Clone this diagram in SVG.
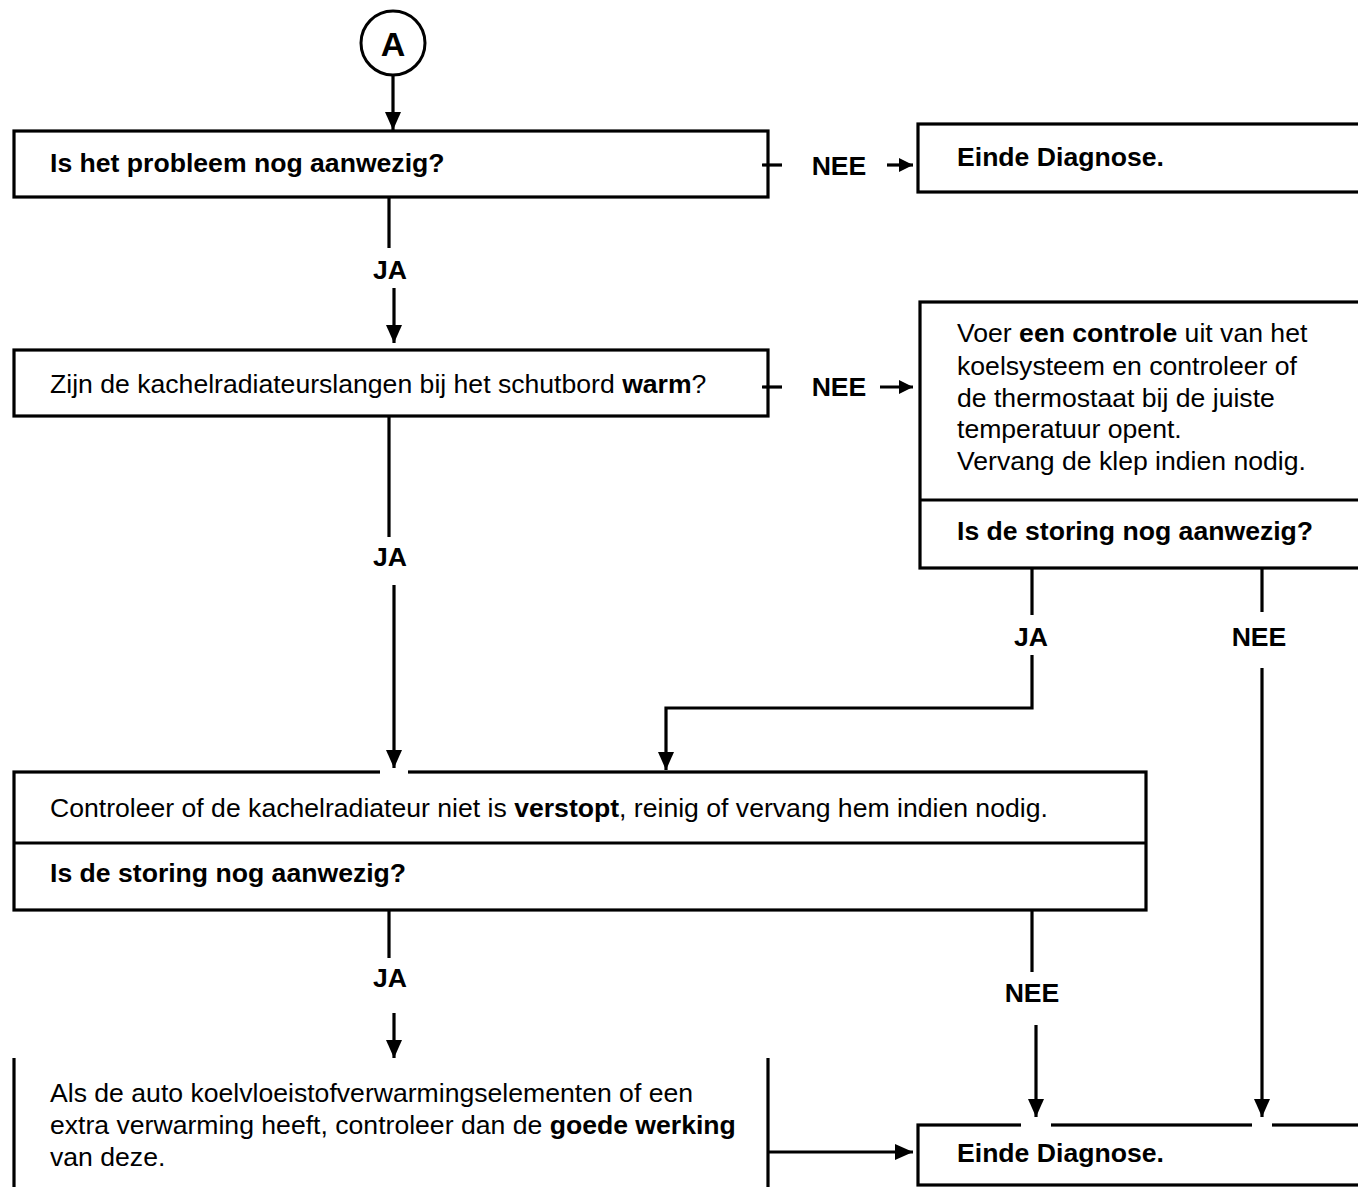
<svg xmlns="http://www.w3.org/2000/svg" width="1358" height="1187" viewBox="0 0 1358 1187">
<style>
.box{fill:#fff;stroke:#000;stroke-width:3.2}
.ln{fill:none;stroke:#000;stroke-width:3.2}
.gap{fill:#fff;stroke:none}
.t{font-family:"Liberation Sans",Arial,sans-serif;font-size:26.6px;fill:#000}
.b{font-weight:bold}
.lbl{font-family:"Liberation Sans",Arial,sans-serif;font-size:26.6px;font-weight:bold;fill:#000;text-anchor:middle}
</style>
<defs>
<marker id="ah" viewBox="0 0 18 16" refX="18" refY="8" markerWidth="18" markerHeight="16" markerUnits="userSpaceOnUse" orient="auto"><path d="M0,0 L18,8 L0,16 z" fill="#000"/></marker>
<marker id="ahs" viewBox="0 0 14 14" refX="14" refY="7" markerWidth="14" markerHeight="14" markerUnits="userSpaceOnUse" orient="auto"><path d="M0,0 L14,7 L0,14 z" fill="#000"/></marker>
</defs>
<rect width="1358" height="1187" fill="#fff"/>

<g id="startA">
<circle cx="393" cy="43" r="32" fill="#fff" stroke="#000" stroke-width="3"/>
<text x="393" y="56" class="lbl" style="font-size:34px">A</text>
</g>

<g id="q1">
<rect class="box" x="14" y="131" width="754" height="66"/>
<text class="t b" x="50" y="172">Is het probleem nog aanwezig?</text>
</g>

<g id="end1">
<rect class="box" x="918" y="124" width="460" height="68"/>
<text class="t b" x="957" y="166">Einde Diagnose.</text>
</g>

<g id="q2">
<rect class="box" x="14" y="350" width="754" height="66"/>
<text class="t" x="50" y="393">Zijn de kachelradiateurslangen bij het schutbord <tspan class="b">warm</tspan>?</text>
</g>

<g id="check1">
<rect class="box" x="920" y="302" width="460" height="266"/>
<line class="ln" x1="920" y1="500" x2="1380" y2="500"/>
<text class="t" x="957" y="342">Voer <tspan class="b">een controle</tspan> uit van het</text>
<text class="t" x="957" y="375">koelsysteem en controleer of</text>
<text class="t" x="957" y="407">de thermostaat bij de juiste</text>
<text class="t" x="957" y="438">temperatuur opent.</text>
<text class="t" x="957" y="470">Vervang de klep indien nodig.</text>
<text class="t b" x="957" y="540">Is de storing nog aanwezig?</text>
</g>

<g id="check2">
<rect class="box" x="14" y="772" width="1132" height="138"/>
<rect class="gap" x="380" y="768" width="28" height="8"/>
<line class="ln" x1="14" y1="843" x2="1146" y2="843"/>
<text class="t" x="50" y="817">Controleer of de kachelradiateur niet is <tspan class="b">verstopt</tspan>, reinig of vervang hem indien nodig.</text>
<text class="t b" x="50" y="882">Is de storing nog aanwezig?</text>
</g>

<g id="check3">
<path class="ln" d="M14,1058 V1190 M768,1058 V1190"/>
<text class="t" x="50" y="1102">Als de auto koelvloeistofverwarmingselementen of een</text>
<text class="t" x="50" y="1134">extra verwarming heeft, controleer dan de <tspan class="b">goede werking</tspan></text>
<text class="t" x="50" y="1166">van deze.</text>
</g>

<g id="end2">
<rect class="box" x="918" y="1125" width="460" height="60"/>
<rect class="gap" x="1021" y="1121" width="30" height="8"/>
<rect class="gap" x="1252" y="1121" width="20" height="8"/>
<text class="t b" x="957" y="1162">Einde Diagnose.</text>
</g>

<g id="connectors">
<line class="ln" x1="393" y1="75" x2="393" y2="130" marker-end="url(#ah)"/>

<line class="ln" x1="762" y1="165" x2="782" y2="165"/>
<text class="lbl" x="839" y="175">NEE</text>
<line class="ln" x1="887" y1="165" x2="913" y2="165" marker-end="url(#ahs)"/>

<line class="ln" x1="389" y1="197" x2="389" y2="248"/>
<text class="lbl" x="390" y="279">JA</text>
<line class="ln" x1="394" y1="288" x2="394" y2="343" marker-end="url(#ah)"/>

<line class="ln" x1="762" y1="387" x2="782" y2="387"/>
<text class="lbl" x="839" y="396">NEE</text>
<line class="ln" x1="880" y1="387" x2="913" y2="387" marker-end="url(#ahs)"/>

<line class="ln" x1="389" y1="416" x2="389" y2="537"/>
<text class="lbl" x="390" y="566">JA</text>
<line class="ln" x1="394" y1="585" x2="394" y2="768" marker-end="url(#ah)"/>

<line class="ln" x1="1032" y1="568" x2="1032" y2="615"/>
<text class="lbl" x="1031" y="646">JA</text>
<path class="ln" d="M1032,655 V708 H666 V770" marker-end="url(#ah)"/>

<line class="ln" x1="1262" y1="568" x2="1262" y2="612"/>
<text class="lbl" x="1259" y="646">NEE</text>
<line class="ln" x1="1262" y1="668" x2="1262" y2="1117" marker-end="url(#ah)"/>

<line class="ln" x1="389" y1="910" x2="389" y2="958"/>
<text class="lbl" x="390" y="987">JA</text>
<line class="ln" x1="394" y1="1013" x2="394" y2="1058" marker-end="url(#ah)"/>

<line class="ln" x1="1032" y1="910" x2="1032" y2="972"/>
<text class="lbl" x="1032" y="1002">NEE</text>
<line class="ln" x1="1036" y1="1025" x2="1036" y2="1117" marker-end="url(#ah)"/>

<line class="ln" x1="768" y1="1152" x2="913" y2="1152" marker-end="url(#ah)"/>
</g>
</svg>
